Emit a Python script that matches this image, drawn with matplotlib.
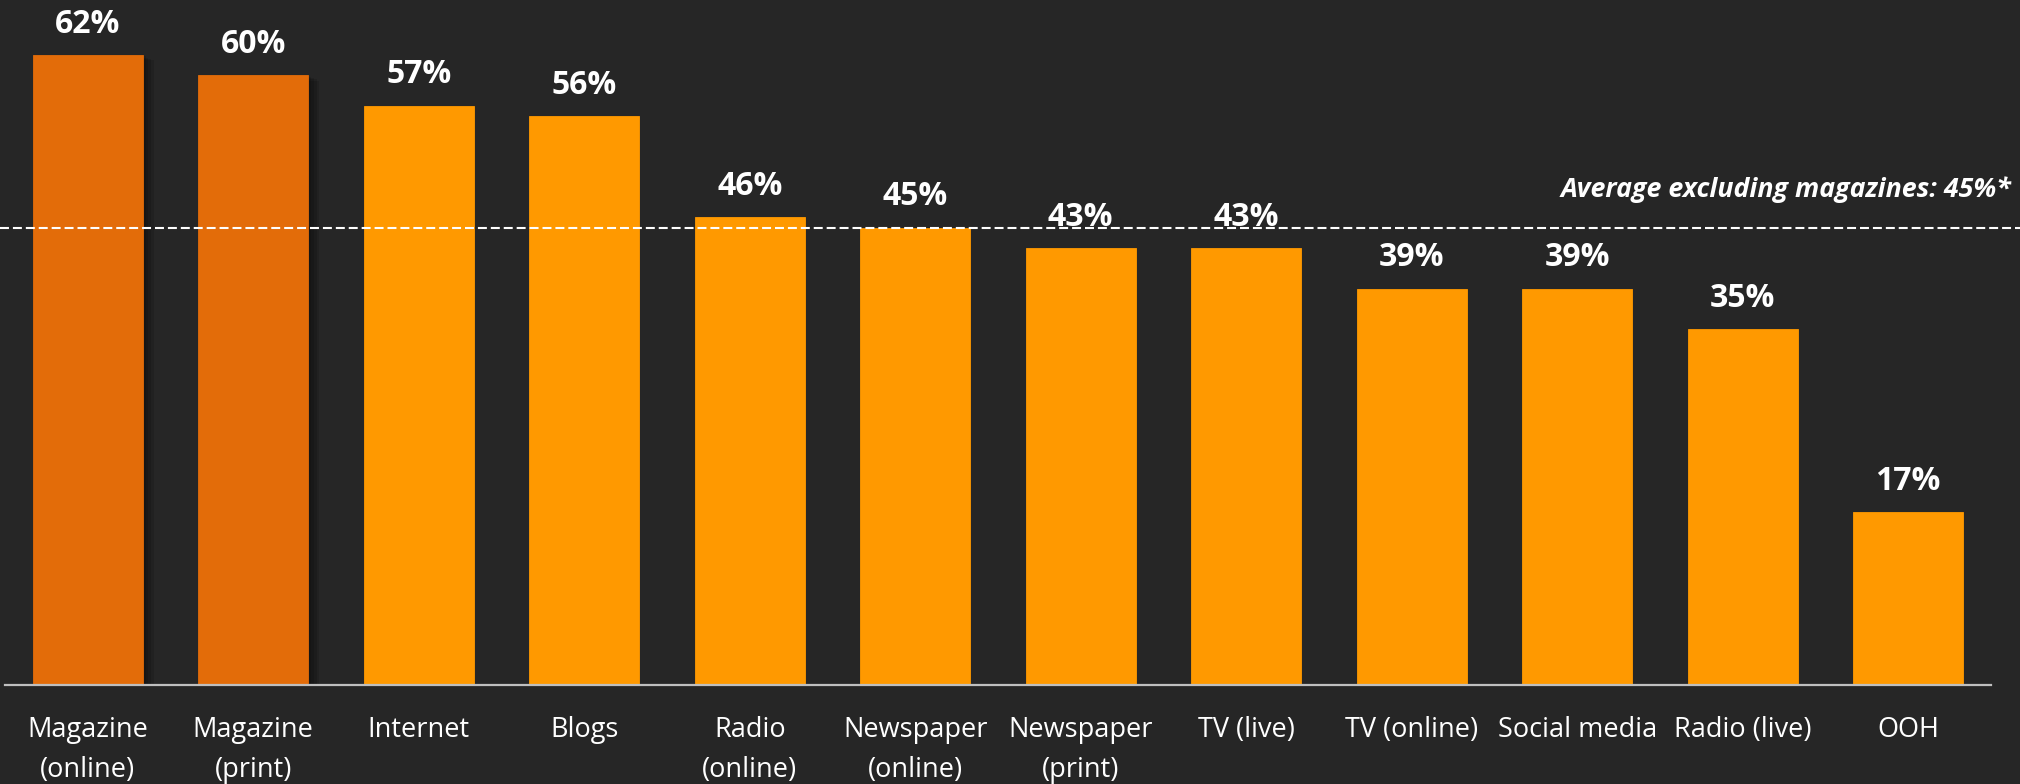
import matplotlib.pyplot as plt
import matplotlib.patheffects as pe
from matplotlib.transforms import blended_transform_factory

# Дані
categories = ["Magazine\n(online)", "Magazine\n(print)", "Internet", "Blogs",
              "Radio\n(online)", "Newspaper\n(online)", "Newspaper\n(print)",
              "TV (live)", "TV (online)", "Social media", "Radio (live)", "OOH"]
values = [62, 60, 57, 56, 46, 45, 43, 43, 39, 39, 35, 17]
is_magazine = [True, True] + [False] * 10
average_excl = 45

bg = "#262626"
plt.rcParams['font.family'] = ['Open Sans', 'DejaVu Sans']

fig = plt.figure(figsize=(20.2, 7.84), dpi=100, facecolor=bg)
ax = fig.add_axes([0.0025, 0.1263, 0.9831, 0.8737])
ax.set_facecolor(bg)

x = list(range(len(values)))
colors = ["#E36C09" if m else "#FF9900" for m in is_magazine]
bars = ax.bar(x, values, width=0.665, color=colors, edgecolor=colors, linewidth=0.6, zorder=2)

# м'яка тінь для журналів
soft_shadow = [pe.SimplePatchShadow(offset=(o, -o * 0.5), shadow_rgbFace='black', alpha=0.12)
               for o in (2, 4, 6, 8)]
for b, m in zip(bars, is_magazine):
    if m:
        b.set_path_effects(soft_shadow + [pe.Normal()])

for xi, v in zip(x, values):
    ax.annotate(f"{v}%", (xi, v), xytext=(0, 16), textcoords='offset points',
                ha='center', va='baseline', color='white', fontsize=23, fontweight='bold', zorder=3)

# середнє без журналів
tr = blended_transform_factory(fig.transFigure, ax.transData)
ax.plot([0, 1], [average_excl, average_excl], transform=tr, color='white',
        linewidth=1.5, linestyle=(0, (4.3, 1.9)), clip_on=False, zorder=4)
ax.text(0.996, average_excl + 3.0, f"Average excluding magazines: {average_excl}%*",
        transform=tr, ha='right', va='baseline', color='white', fontsize=19.3,
        fontweight='bold', fontstyle='italic')

ax.set_xlim(-0.5, len(values) - 0.5)
ax.set_ylim(0, 67.4)
ax.set_xticks(x)
ax.set_xticklabels(categories, fontsize=19.5, color='white', linespacing=1.58)
ax.tick_params(axis='x', length=0, pad=22)
ax.set_yticks([])
for s in ['top', 'right', 'left']:
    ax.spines[s].set_visible(False)
ax.spines['bottom'].set_color('#BFBFBF')
ax.spines['bottom'].set_linewidth(1.6)

fig.savefig("out.png", dpi=100, facecolor=bg)
